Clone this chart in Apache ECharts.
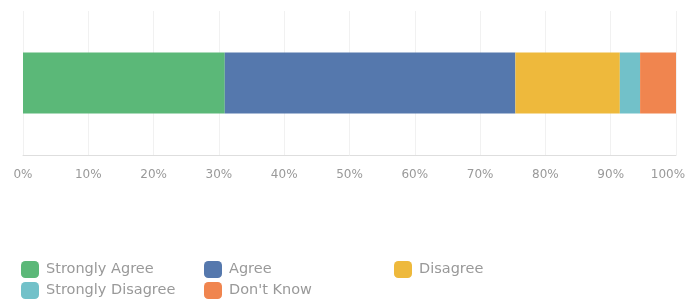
<html>
<head>
<meta charset="utf-8"/>
<title>Survey responses</title>
<script src="https://cdn.jsdelivr.net/npm/echarts@6/dist/echarts.min.js"></script>
<style>
  html, body { margin: 0; padding: 0; background: #fff; }
  #main { width: 692px; height: 304px; }
</style>
</head>
<body>
<div id="main"></div>
<script type="text/javascript">
    // data (percent of answers)
    var categories = ['Responses'];
    var answerNames = ['Strongly Agree', 'Agree', 'Disagree', 'Strongly Disagree', "Don't Know"];
    var answerValues = [30.9, 44.5, 16.0, 3.1, 5.5];
    var answerColors = ['#5bb878', '#5578ad', '#eeb93c', '#72c1c9', '#f0854f'];
    var tickLabels = ['0%', '10%', '20%', '30%', '40%', '50%', '60%', '70%', '80%', '90%', '100%'];

    // legend is laid out in three columns
    var legendColumns = [
        ['Strongly Agree', 'Strongly Disagree'],
        ['Agree', "Don't Know"],
        ['Disagree']
    ];
    var legendLefts = [21, 204, 394];

    var myChart = echarts.init(document.getElementById('main'));

    var series = [];
    for (var i = 0; i < answerNames.length; i++) {
        series.push({
            name: answerNames[i],
            type: 'bar',
            stack: 'all',
            barWidth: 61,
            itemStyle: { color: answerColors[i] },
            data: [answerValues[i]]
        });
    }

    var legends = [];
    for (var j = 0; j < legendColumns.length; j++) {
        legends.push({
            data: legendColumns[j],
            orient: 'vertical',
            left: legendLefts[j],
            top: 261,
            itemWidth: 18,
            itemHeight: 17,
            itemGap: 4,
            icon: 'roundRect',
            padding: 0,
            selectedMode: false,
            textStyle: { color: '#999', fontSize: 14.5, fontFamily: 'DejaVu Sans', padding: [0, 0, 0, 2] }
        });
    }

    var option = {
        animation: false,
        grid: { left: 23, right: 16, top: 11, height: 144, outerBoundsMode: 'none' },
        legend: legends,
        xAxis: {
            type: 'value',
            min: 0,
            max: 100,
            interval: 10,
            axisLine: { show: true, lineStyle: { color: '#dedede', width: 1 } },
            axisTick: { show: false },
            splitLine: { show: true, lineStyle: { color: '#f1f1f1' } },
            axisLabel: {
                margin: 14,
                color: '#999',
                fontSize: 12,
                fontFamily: 'DejaVu Sans',
                formatter: function (v) {
                    var k = Math.round(v / 10);
                    // last label sits a little left of its tick
                    if (k === tickLabels.length - 1) return '{last|' + tickLabels[k] + '}';
                    return tickLabels[k];
                },
                rich: {
                    last: { color: '#999', fontSize: 12, fontFamily: 'DejaVu Sans', padding: [0, 16, 0, 0] }
                }
            }
        },
        yAxis: {
            type: 'category',
            data: categories,
            axisLine: { show: false },
            axisTick: { show: false },
            axisLabel: { show: false }
        },
        series: series
    };

    myChart.setOption(option);
</script>
</body>
</html>
